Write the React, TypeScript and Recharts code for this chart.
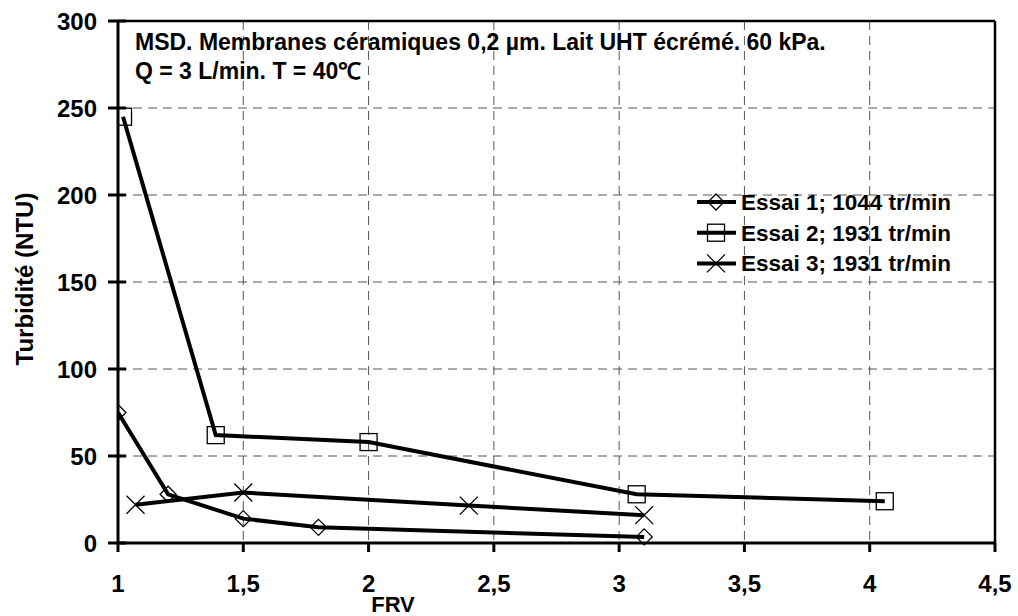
import React from "react"
import { LineChart, Line, XAxis, YAxis, CartesianGrid, ReferenceLine, Customized } from "recharts"

// Valeurs
const essai1X = [1, 1.2, 1.5, 1.8, 3.1]
const essai1Y = [75, 28, 14, 9, 3.5]
const essai2X = [1.02, 1.39, 2.0, 3.07, 4.06]
const essai2Y = [245, 62, 58, 28, 24]
const essai3X = [1.07, 1.5, 2.4, 3.1]
const essai3Y = [22, 29, 21.5, 16]

const seriesNames = ["Essai 1; 1044 tr/min", "Essai 2; 1931 tr/min", "Essai 3; 1931 tr/min"]
const xTicks = [1, 1.5, 2, 2.5, 3, 3.5, 4, 4.5]
const yTicks = [0, 50, 100, 150, 200, 250, 300]
const titleLines = ["MSD. Membranes céramiques 0,2 µm. Lait UHT écrémé. 60 kPa.", "Q = 3 L/min. T = 40℃"]

const FONT = "'Liberation Sans', Arial, sans-serif"

const toPoints = (xs: number[], ys: number[]) => xs.map((x, i) => ({ x, y: ys[i] }))

const Diamond = ({ cx, cy }: any) => (
  <path d={`M${cx},${cy - 8} L${cx + 8},${cy} L${cx},${cy + 8} L${cx - 8},${cy} Z`} fill="none" stroke="#000" strokeWidth={1.3} />
)
const Square = ({ cx, cy }: any) => (
  <rect x={cx - 8.5} y={cy - 8.5} width={17} height={17} fill="none" stroke="#000" strokeWidth={1.3} />
)
const Cross = ({ cx, cy }: any) => (
  <path d={`M${cx - 9},${cy - 9} L${cx + 9},${cy + 9} M${cx - 9},${cy + 9} L${cx + 9},${cy - 9}`} stroke="#000" strokeWidth={1.3} />
)
const MARKERS = [Diamond, Square, Cross]

const YTick = ({ x, y, payload }: any) => (
  <g>
    <line x1={x - 10} x2={x + 8} y1={y} y2={y} stroke="#000" strokeWidth={3} />
    <text x={x - 21} y={y + 8.5} textAnchor="end" fontFamily={FONT} fontWeight="bold" fontSize={24} fill="#000">
      {payload.value}
    </text>
  </g>
)

const XTick = ({ x, y, payload }: any) => (
  <g>
    <line x1={x} x2={x} y1={y} y2={y + 9} stroke="#000" strokeWidth={3} />
    <text x={x} y={y + 49} textAnchor="middle" fontFamily={FONT} fontWeight="bold" fontSize={24} fill="#000">
      {String(payload.value).replace(".", ",")}
    </text>
  </g>
)

// légende et textes libres, dessinés dans le svg
const Texts = () => (
  <g fontFamily={FONT} fontWeight="bold" fill="#000">
    <text x={135} y={50} fontSize={23}>{titleLines[0]}</text>
    <text x={135} y={79} fontSize={23}>{titleLines[1]}</text>
    <text x={393} y={612} fontSize={22} textAnchor="middle">FRV</text>
    <text x={33} y={279} fontSize={24} textAnchor="middle" transform="rotate(-90 33 279)">Turbidité (NTU)</text>
    {seriesNames.map((name, i) => {
      const M = MARKERS[i]
      const cy = 202 + i * 30.7
      return (
        <g key={name}>
          <line x1={697} x2={736} y1={cy} y2={cy} stroke="#000" strokeWidth={4} />
          <M cx={716} cy={cy} />
          <text x={741} y={cy + 8} fontSize={22.5}>{name}</text>
        </g>
      )
    })}
  </g>
)

export default function App() {
  const series = [toPoints(essai1X, essai1Y), toPoints(essai2X, essai2Y), toPoints(essai3X, essai3Y)]
  return (
    <div style={{ position: "absolute", left: 0, top: 0, background: "#fff" }}>
      <LineChart width={1018} height={616} margin={{ top: 21, right: 23, left: 0, bottom: 0 }}>
        <CartesianGrid stroke="#555" strokeDasharray="9 6" strokeWidth={1} />
        <XAxis
          dataKey="x"
          type="number"
          domain={[1, 4.5]}
          ticks={xTicks}
          height={73}
          tickSize={0}
          tickMargin={0}
          tick={<XTick />}
          axisLine={{ stroke: "#000", strokeWidth: 3 }}
          allowDataOverflow
        />
        <YAxis
          type="number"
          domain={[0, 300]}
          ticks={yTicks}
          width={118}
          tickSize={0}
          tickMargin={0}
          tick={<YTick />}
          axisLine={{ stroke: "#000", strokeWidth: 3 }}
        />
        <ReferenceLine y={300} stroke="#000" strokeWidth={2.5} />
        <ReferenceLine x={4.5} stroke="#000" strokeWidth={2.5} />
        {series.map((data, i) => {
          const M = MARKERS[i]
          return (
            <Line
              key={seriesNames[i]}
              data={data}
              dataKey="y"
              name={seriesNames[i]}
              type="linear"
              stroke="#000"
              strokeWidth={4}
              dot={(p: any) => <M key={`d-${i}-${p.index}`} cx={p.cx} cy={p.cy} />}
              activeDot={false}
              isAnimationActive={false}
            />
          )
        })}
        <Customized component={<Texts />} />
      </LineChart>
    </div>
  )
}
